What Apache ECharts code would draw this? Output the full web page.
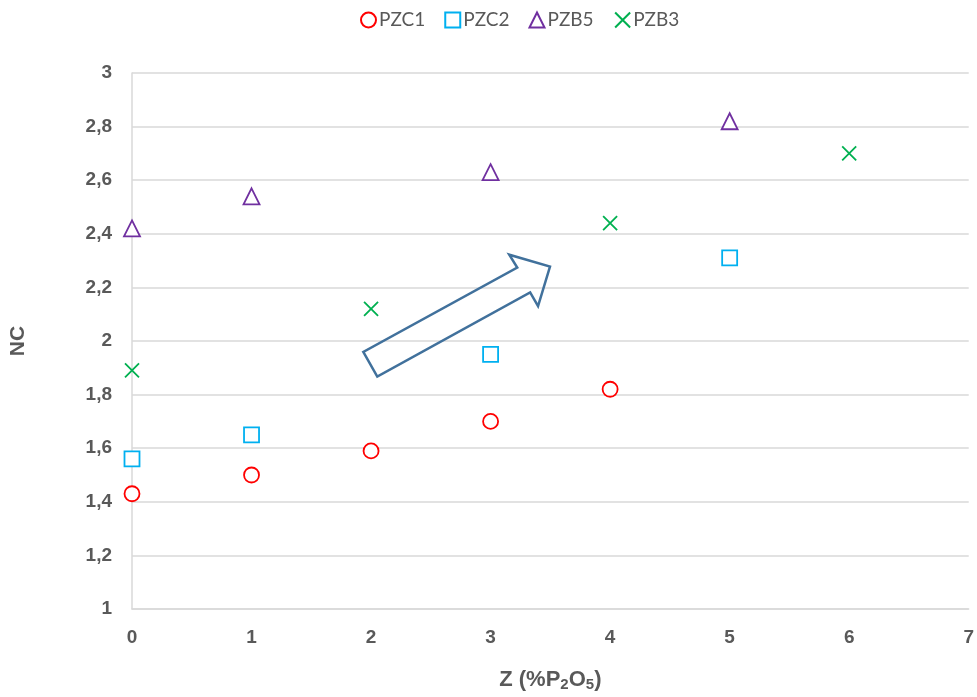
<!DOCTYPE html>
<html>
<head>
<meta charset="utf-8">
<script src="https://cdn.jsdelivr.net/npm/echarts@6/dist/echarts.min.js"></script>
<style>html,body{margin:0;padding:0;background:#fff;overflow:hidden}#c{position:fixed;left:0;top:0;width:977px;height:697px}</style>
</head>
<body>
<div id="c"></div>
<script>
var seriesNames = ['PZC1', 'PZC2', 'PZB5', 'PZB3'];
var pzc1 = [[0, 1.43], [1, 1.50], [2, 1.59], [3, 1.70], [4, 1.82]];
var pzc2 = [[0, 1.56], [1, 1.65], [3, 1.95], [5, 2.31]];
var pzb5 = [[0, 2.42], [1, 2.54], [3, 2.63], [5, 2.82]];
var pzb3 = [[0, 1.89], [2, 2.12], [4, 2.44], [6, 2.70]];
// annotation arrow outline in data coordinates
var arrowPts = [[1.935, 1.959], [2.052, 1.867], [3.331, 2.181], [3.397, 2.130], [3.497, 2.278], [3.156, 2.322], [3.223, 2.274]];

var chart = echarts.init(document.getElementById('c'), null, {renderer: 'canvas', width: 977, height: 697});
var gray = '#595959';
var crossPath = 'path://M0,0L10,10M10,0L0,10';
function mk(name, data, symbol, color, size) {
  return {
    name: name, type: 'scatter', data: data, symbol: symbol, symbolSize: size,
    itemStyle: {color: symbol === crossPath ? 'none' : '#fff', borderColor: color, borderWidth: 1.8, opacity: 1},
    emphasis: {disabled: true}
  };
}
var option = {
  animation: false,
  backgroundColor: '#fff',
  grid: {left: 132, top: 73, width: 842, height: 540, containLabel: false},
  legend: {
    left: 355, top: 5, itemWidth: 15, itemHeight: 15, itemGap: 19,
    textStyle: {fontFamily: 'Lato', fontSize: 19, color: gray, padding: [0, 0, 0, -2]},
    data: seriesNames
  },
  xAxis: {
    type: 'value', min: 0, max: 7, interval: 1,
    name: 'Z (%P{s|2}O{s|5})', nameLocation: 'middle', nameGap: 58,
    nameTextStyle: {fontFamily: 'Liberation Sans', fontWeight: 'bold', fontSize: 22, color: gray,
      rich: {s: {fontFamily: 'Liberation Sans', fontWeight: 'bold', fontSize: 15, color: gray, padding: [10, 0, 0, 0]}}},
    axisLine: {show: true, lineStyle: {color: '#d9d9d9', width: 1.5}},
    axisTick: {show: false},
    splitLine: {show: false},
    axisLabel: {fontFamily: 'Liberation Sans', fontWeight: 'bold', fontSize: 19, color: gray, margin: 19}
  },
  yAxis: {
    type: 'value', min: 1, max: 3, interval: 0.2,
    name: 'NC', nameLocation: 'middle', nameGap: 103, nameRotate: 90,
    nameTextStyle: {fontFamily: 'Liberation Sans', fontWeight: 'bold', fontSize: 21, color: gray},
    axisLine: {show: true, lineStyle: {color: '#d9d9d9', width: 1.5}},
    axisTick: {show: false},
    splitLine: {show: true, lineStyle: {color: '#d9d9d9', width: 1.5}},
    axisLabel: {fontFamily: 'Liberation Sans', fontWeight: 'bold', fontSize: 19, color: gray, margin: 20,
      formatter: function (v) { return String(Number(v.toFixed(1))).replace('.', ','); }}
  },
  series: [
    mk('PZC1', pzc1, 'circle', '#FF0000', 15),
    mk('PZC2', pzc2, 'rect', '#00B0F0', 15),
    mk('PZB5', pzb5, 'triangle', '#7030A0', 16),
    mk('PZB3', pzb3, crossPath, '#00B050', 14)
  ]
};
chart.setOption(option);
var pts = arrowPts.map(function (p) { return chart.convertToPixel({gridIndex: 0}, p); });
chart.setOption({
  graphic: [{
    type: 'polygon', z: 100,
    shape: {points: pts},
    style: {fill: 'none', stroke: '#41719C', lineWidth: 2.5, lineJoin: 'miter'}
  }]
});
</script>
</body>
</html>
